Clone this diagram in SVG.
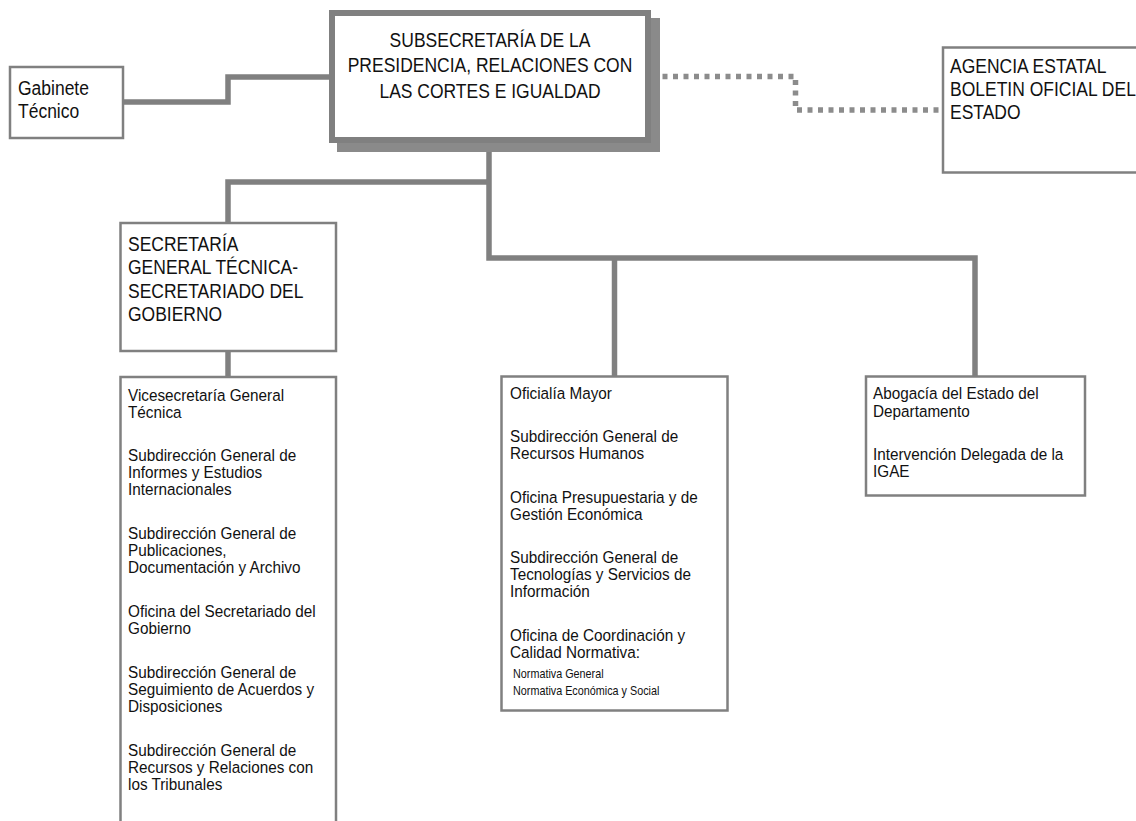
<svg xmlns="http://www.w3.org/2000/svg" width="1136" height="821" viewBox="0 0 1136 821">
<style>
  .box{fill:#ffffff;stroke:#808080;stroke-width:2.5}
  .main{fill:#ffffff;stroke:#808080;stroke-width:6}
  .shadow{fill:#8a8a8a}
  .conn{fill:none;stroke:#808080;stroke-width:5.5;stroke-linejoin:miter;stroke-linecap:butt}
  .dot{fill:none;stroke:#8c8c8c;stroke-width:5.5;stroke-dasharray:5 5.5}
  text{font-family:"Liberation Sans",Arial,sans-serif;fill:#111}
  .big{font-size:21px}
  .mid{font-size:17px}
  .sm{font-size:12px}
</style>
<rect x="0" y="0" width="1136" height="821" fill="#ffffff"/>
<g id="connectors">
  <path class="conn" d="M124,102 H228 V77 H330"/>
  <path class="conn" d="M489,143 V258 H975 V376"/>
  <path class="conn" d="M489,182 H228 V223"/>
  <path class="conn" d="M228,352 V377"/>
  <path class="conn" d="M614.5,258 V376"/>
  <path class="dot" d="M652,76.5 H795.5 V110 H942"/>
</g>
<g id="subsecretaria">
  <rect class="shadow" x="337" y="18" width="323" height="134"/>
  <rect class="main" x="332" y="13" width="316" height="127"/>
  <text class="big" text-anchor="middle" transform="translate(490,0) scale(0.833,1)"><tspan x="0" y="47">SUBSECRETARÍA DE LA</tspan><tspan x="0" y="72.5">PRESIDENCIA, RELACIONES CON</tspan><tspan x="0" y="98">LAS CORTES E IGUALDAD</tspan></text>
</g>
<g id="gabinete">
  <rect class="box" x="10" y="67" width="113" height="71"/>
  <text class="big" transform="translate(18,0) scale(0.833,1)"><tspan x="0" y="95">Gabinete</tspan><tspan x="0" y="118">Técnico</tspan></text>
</g>
<g id="agencia">
  <rect class="box" x="943" y="47.5" width="210" height="125"/>
  <text class="big" transform="translate(950,0) scale(0.833,1)"><tspan x="0" y="73.5">AGENCIA ESTATAL</tspan><tspan x="0" y="96.5">BOLETIN OFICIAL DEL</tspan><tspan x="0" y="119.5">ESTADO</tspan></text>
</g>
<g id="sgt">
  <rect class="box" x="120.5" y="223" width="215.5" height="128"/>
  <text class="big" transform="translate(128,0) scale(0.833,1)"><tspan x="0" y="251">SECRETARÍA</tspan><tspan x="0" y="274.5">GENERAL TÉCNICA-</tspan><tspan x="0" y="298">SECRETARIADO DEL</tspan><tspan x="0" y="321">GOBIERNO</tspan></text>
</g>
<g id="sgt-units">
  <rect class="box" x="120.5" y="377" width="215.5" height="460"/>
  <text class="mid" transform="translate(128,0) scale(0.9,1)"><tspan x="0" y="401">Vicesecretaría General</tspan><tspan x="0" y="418">Técnica</tspan><tspan x="0" y="461">Subdirección General de</tspan><tspan x="0" y="478">Informes y Estudios</tspan><tspan x="0" y="495">Internacionales</tspan><tspan x="0" y="539">Subdirección General de</tspan><tspan x="0" y="556">Publicaciones,</tspan><tspan x="0" y="573">Documentación y Archivo</tspan><tspan x="0" y="617">Oficina del Secretariado del</tspan><tspan x="0" y="634">Gobierno</tspan><tspan x="0" y="678">Subdirección General de</tspan><tspan x="0" y="695">Seguimiento de Acuerdos y</tspan><tspan x="0" y="712">Disposiciones</tspan><tspan x="0" y="756">Subdirección General de</tspan><tspan x="0" y="773">Recursos y Relaciones con</tspan><tspan x="0" y="790">los Tribunales</tspan></text>
</g>
<g id="oficialia">
  <rect class="box" x="501.5" y="376.5" width="226" height="334"/>
  <text class="mid" transform="translate(510,0) scale(0.9,1)"><tspan x="0" y="399">Oficialía Mayor</tspan><tspan x="0" y="442">Subdirección General de</tspan><tspan x="0" y="459">Recursos Humanos</tspan><tspan x="0" y="503">Oficina Presupuestaria y de</tspan><tspan x="0" y="520">Gestión Económica</tspan><tspan x="0" y="563">Subdirección General de</tspan><tspan x="0" y="580">Tecnologías y Servicios de</tspan><tspan x="0" y="597">Información</tspan><tspan x="0" y="641">Oficina de Coordinación y</tspan><tspan x="0" y="658">Calidad Normativa:</tspan></text>
  <text class="sm" transform="translate(513,0) scale(0.9,1)"><tspan x="0" y="678">Normativa General</tspan><tspan x="0" y="695">Normativa Económica y Social</tspan></text>
</g>
<g id="abogacia">
  <rect class="box" x="866" y="376.5" width="219" height="119"/>
  <text class="mid" transform="translate(873,0) scale(0.9,1)"><tspan x="0" y="399">Abogacía del Estado del</tspan><tspan x="0" y="417">Departamento</tspan><tspan x="0" y="460">Intervención Delegada de la</tspan><tspan x="0" y="477">IGAE</tspan></text>
</g>
</svg>
